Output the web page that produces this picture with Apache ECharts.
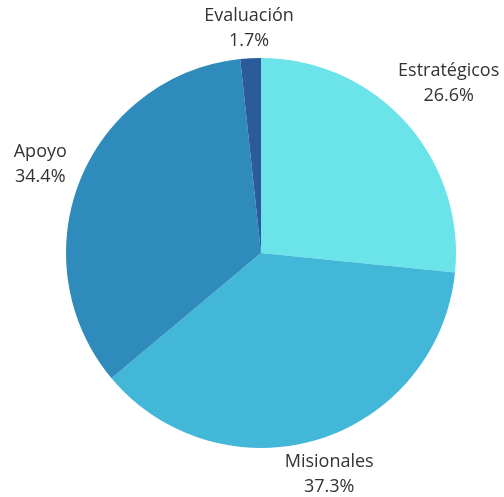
<!DOCTYPE html>
<html>
<head>
<meta charset="utf-8">
<script src="https://cdn.jsdelivr.net/npm/echarts@6/dist/echarts.min.js"></script>
<style>
html,body{margin:0;padding:0;background:#fff;}
#chart{width:504px;height:497px;}
</style>
</head>
<body>
<div id="chart"></div>
<script>
const categories = ['Estratégicos', 'Misionales', 'Apoyo', 'Evaluación'];
const values = [26.6, 37.3, 34.4, 1.7];

const colors = ['#6ae4e9', '#43b7d7', '#2e8bbb', '#2b5b9a'];
const labelLengths = [58, 37, 43, 30];

const chart = echarts.init(document.getElementById('chart'), null, {renderer: 'canvas'});
chart.setOption({
  animation: false,
  backgroundColor: '#fff',
  series: [{
    type: 'pie',
    center: [261, 253],
    radius: 195,
    startAngle: 90,
    clockwise: true,
    avoidLabelOverlap: false,
    data: categories.map((c, i) => ({
      name: c,
      value: values[i],
      itemStyle: {color: colors[i]},
      labelLine: {show: false, length: labelLengths[i], length2: 0}
    })),
    itemStyle: {borderWidth: 0},
    label: {
      show: true,
      position: 'outside',
      distanceToLabelLine: 0,
      fontFamily: '"Open Sans", sans-serif',
      fontSize: 18,
      lineHeight: 25,
      color: '#333',
      formatter: p => p.name + '\n' + p.value.toFixed(1) + '%'
    },
    labelLine: {show: false},
    labelLayout: {align: 'center', verticalAlign: 'middle'}
  }]
});
</script>
</body>
</html>
